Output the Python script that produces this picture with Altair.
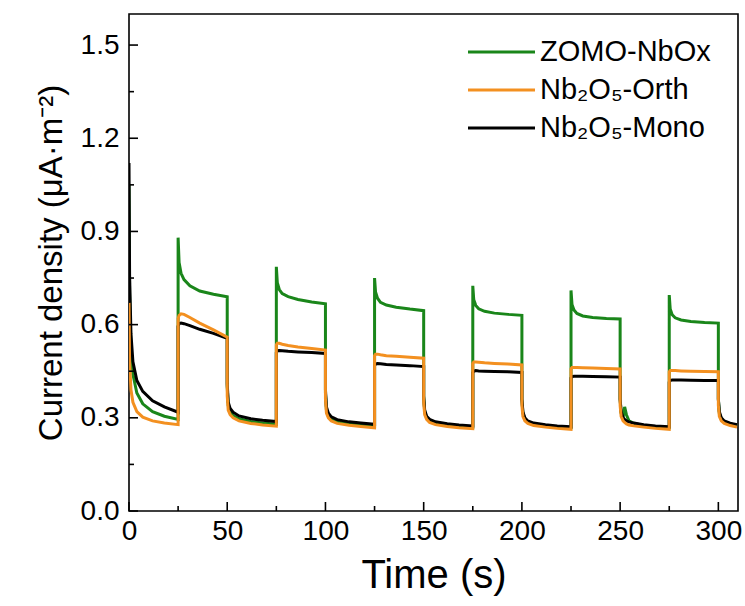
import altair as alt
import pandas as pd

# Time (s) sample points (shared by all series)
T = [0, 0.3, 1, 2, 4, 7, 12, 18, 25,
     25, 25.5, 26.5, 28, 31, 36, 43, 50,
     50, 50.5, 51.5, 53, 56, 62, 68, 75,
     75, 75.5, 76.5, 78, 81, 86, 93, 100,
     100, 100.5, 101.5, 103, 106, 112, 118, 125,
     125, 125.5, 126.5, 128, 131, 136, 143, 150,
     150, 150.5, 151.5, 153, 156, 162, 168, 175,
     175, 175.5, 176.5, 178, 181, 186, 193, 200,
     200, 200.5, 201.5, 203, 206, 212, 218, 225,
     225, 225.5, 226.5, 228, 231, 236, 243, 250,
     250, 250.5, 251.5, 252.3, 253.2, 254.5, 257, 262, 268, 275,
     275, 275.5, 276.5, 278, 281, 286, 293, 300,
     300, 300.5, 301.5, 303, 306, 309.5]

ZOMO = [1.05, 0.70, 0.52, 0.44, 0.38, 0.345, 0.32, 0.305, 0.295,
        0.88, 0.80, 0.765, 0.745, 0.725, 0.708, 0.698, 0.69,
        0.40, 0.34, 0.32, 0.307, 0.297, 0.288, 0.283, 0.279,
        0.786, 0.735, 0.713, 0.70, 0.69, 0.681, 0.673, 0.667,
        0.38, 0.325, 0.305, 0.295, 0.287, 0.28, 0.276, 0.273,
        0.75, 0.705, 0.685, 0.672, 0.663, 0.656, 0.65, 0.645,
        0.37, 0.32, 0.30, 0.29, 0.282, 0.276, 0.272, 0.27,
        0.725, 0.68, 0.662, 0.651, 0.643, 0.637, 0.633, 0.63,
        0.36, 0.315, 0.297, 0.287, 0.28, 0.274, 0.27, 0.268,
        0.71, 0.665, 0.647, 0.636, 0.628, 0.623, 0.62, 0.618,
        0.36, 0.315, 0.30, 0.335, 0.31, 0.29, 0.282, 0.275, 0.27, 0.268,
        0.695, 0.65, 0.632, 0.622, 0.615, 0.61, 0.607, 0.605,
        0.36, 0.315, 0.297, 0.287, 0.28, 0.275]

ORTH = [0.67, 0.48, 0.39, 0.35, 0.32, 0.302, 0.29, 0.283, 0.278,
        0.62, 0.63, 0.635, 0.633, 0.623, 0.605, 0.583, 0.56,
        0.37, 0.325, 0.31, 0.30, 0.29, 0.282, 0.277, 0.273,
        0.535, 0.54, 0.54, 0.537, 0.533, 0.528, 0.523, 0.518,
        0.36, 0.315, 0.30, 0.29, 0.282, 0.276, 0.272, 0.268,
        0.50, 0.505, 0.505, 0.503, 0.50, 0.498, 0.495, 0.492,
        0.35, 0.31, 0.295, 0.285, 0.278, 0.272, 0.268, 0.265,
        0.475, 0.48, 0.48, 0.479, 0.477, 0.475, 0.473, 0.47,
        0.34, 0.305, 0.29, 0.282, 0.275, 0.27, 0.266, 0.263,
        0.458, 0.462, 0.462, 0.462, 0.461, 0.46, 0.459, 0.457,
        0.34, 0.305, 0.29, 0.285, 0.28, 0.277, 0.274, 0.27, 0.266, 0.263,
        0.448, 0.452, 0.452, 0.452, 0.451, 0.45, 0.449, 0.448,
        0.34, 0.305, 0.29, 0.282, 0.275, 0.27]

MONO = [1.12, 0.76, 0.57, 0.48, 0.42, 0.385, 0.355, 0.335, 0.318,
        0.595, 0.603, 0.605, 0.603, 0.597, 0.585, 0.572, 0.556,
        0.41, 0.35, 0.33, 0.318, 0.306, 0.297, 0.292, 0.288,
        0.51, 0.516, 0.517, 0.516, 0.514, 0.512, 0.51, 0.507,
        0.39, 0.335, 0.315, 0.303, 0.294, 0.287, 0.283, 0.279,
        0.468, 0.473, 0.475, 0.474, 0.472, 0.47, 0.468, 0.465,
        0.37, 0.325, 0.305, 0.295, 0.287, 0.281, 0.277, 0.274,
        0.445, 0.45, 0.452, 0.451, 0.45, 0.449, 0.448, 0.446,
        0.36, 0.32, 0.30, 0.29, 0.283, 0.278, 0.274, 0.271,
        0.428, 0.432, 0.434, 0.434, 0.434, 0.433, 0.432, 0.431,
        0.36, 0.32, 0.30, 0.295, 0.29, 0.287, 0.283, 0.278, 0.274, 0.271,
        0.415, 0.42, 0.422, 0.422, 0.422, 0.421, 0.42, 0.42,
        0.36, 0.32, 0.30, 0.29, 0.283, 0.278]

SERIES = ["ZOMO-NbOx", "Nb₂O₅-Orth", "Nb₂O₅-Mono"]
COLORS = ["#1a861a", "#f39020", "#000000"]

X_TICKS = [0, 50, 100, 150, 200, 250, 300]
X_MINOR = [25, 75, 125, 175, 225, 275]
Y_TICKS = [0.0, 0.3, 0.6, 0.9, 1.2, 1.5]
Y_MINOR = [0.15, 0.45, 0.75, 1.05, 1.35]

FONT = "Liberation Sans"
W, H = 609, 497
LW = 3

rows = []
for name, vals in zip(SERIES, [ZOMO, ORTH, MONO]):
    for i, (t, v) in enumerate(zip(T, vals)):
        rows.append({"t": t, "v": v, "s": name, "i": i})
df = pd.DataFrame(rows)

xs = alt.Scale(domain=[0, 310], nice=False, zero=False)
ys = alt.Scale(domain=[0, 1.6], nice=False)

x_axis = alt.Axis(values=X_TICKS, title="Time (s)", ticks=False, domain=False,
                  grid=False, labelFontSize=28, labelPadding=6, titleFontSize=40,
                  titlePadding=10, labelFlush=False)
y_axis = alt.Axis(values=Y_TICKS, format=".1f", title="Current density (μA·m⁻²)",
                  ticks=False, domain=False, grid=False, labelFontSize=28,
                  labelPadding=10, titleFontSize=33, titlePadding=12, labelFlush=False)

X = alt.X("t:Q", scale=xs, axis=x_axis)


def series_line(idx, with_axis):
    return alt.Chart(df).transform_filter(alt.datum.s == SERIES[idx]).mark_line(
        color=COLORS[idx], strokeWidth=LW, clip=True
    ).encode(
        x=X,
        y=alt.Y("v:Q", scale=ys, axis=y_axis if with_axis else None),
        order="i:Q",
    )


lines = [series_line(0, True), series_line(2, False), series_line(1, False)]

ymaj = alt.Chart(pd.DataFrame({"v": Y_TICKS})).mark_rule(color="black", strokeWidth=1.6).encode(
    y=alt.Y("v:Q", scale=ys, axis=None), x=alt.value(0), x2=alt.value(9))
ymin = alt.Chart(pd.DataFrame({"v": Y_MINOR})).mark_rule(color="black", strokeWidth=1.6).encode(
    y=alt.Y("v:Q", scale=ys, axis=None), x=alt.value(0), x2=alt.value(5))
xmaj = alt.Chart(pd.DataFrame({"t": X_TICKS})).mark_rule(color="black", strokeWidth=1.6).encode(
    x=X, y=alt.value(H), y2=alt.value(H - 9))
xmin = alt.Chart(pd.DataFrame({"t": X_MINOR})).mark_rule(color="black", strokeWidth=1.6).encode(
    x=X, y=alt.value(H), y2=alt.value(H - 5))

leg_df = pd.DataFrame({"s": SERIES})
leg_y = alt.Y("s:N", scale=alt.Scale(type="point", domain=SERIES, range=[38, 114], padding=0),
              axis=None)
leg_color = alt.Color("s:N", scale=alt.Scale(domain=SERIES, range=COLORS), legend=None)
leg_rule = alt.Chart(leg_df).mark_rule(strokeWidth=LW).encode(
    y=leg_y, x=alt.value(339), x2=alt.value(406), color=leg_color)
leg_text = alt.Chart(leg_df).mark_text(align="left", baseline="middle", fontSize=29,
                                       font=FONT, color="black").encode(
    y=leg_y, x=alt.value(411), text="s:N")

chart = alt.layer(*lines, ymaj, ymin, xmaj, xmin, leg_rule, leg_text).resolve_scale(
    y="independent", color="independent"
).properties(
    width=W, height=H, autosize=alt.AutoSizeParams(type="none"),
    padding={"left": 129, "top": 14, "right": 7, "bottom": 95},
    background="white",
).configure_view(stroke="black", strokeWidth=1.6).configure_axis(
    labelFont=FONT, titleFont=FONT, labelColor="black", titleColor="black",
    titleFontWeight="normal"
)

chart.save("out.html", embed_options={"renderer": "svg", "actions": False})
